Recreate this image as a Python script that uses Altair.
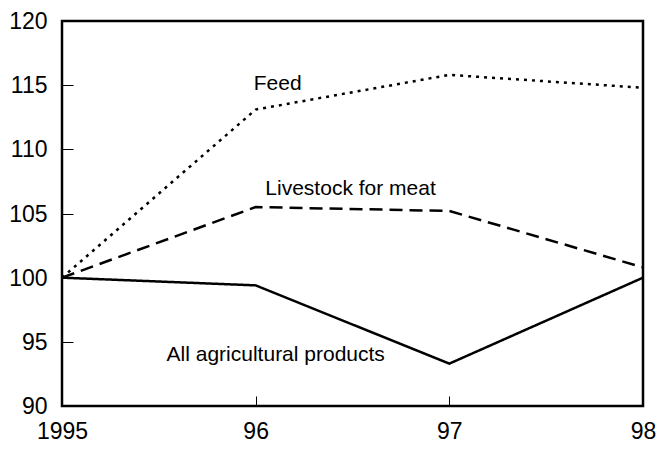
import altair as alt
import pandas as pd

years = [1995, 1996, 1997, 1998]
feed = [100.0, 113.1, 115.8, 114.8]
livestock = [100.0, 105.5, 105.2, 100.8]
all_products = [100.0, 99.4, 93.3, 100.0]

series_names = ["Feed", "Livestock for meat", "All agricultural products"]
series_values = [feed, livestock, all_products]

label_texts = ["Feed", "Livestock for meat", "All agricultural products"]
label_x = [1995.99, 1996.05, 1995.54]
label_y = [114.6, 106.44, 93.48]

x_ticks_inner = [1996, 1997]
y_ticks_inner = [95, 100, 105, 110, 115]
y_label_values = [90, 95, 100, 105, 110, 115, 120]
x_label_values = [1995, 1996, 1997, 1998]

rows = []
for name, vals in zip(series_names, series_values):
    for yr, v in zip(years, vals):
        rows.append({"year": yr, "value": v, "series": name})
df = pd.DataFrame(rows)

labels_df = pd.DataFrame({"year": label_x, "value": label_y, "text": label_texts})

FONT = "Liberation Sans"
W, H = 581, 385

x_scale = alt.Scale(domain=[1995, 1998], nice=False, zero=False)
y_scale = alt.Scale(domain=[90, 120], nice=False, zero=False)

lines = alt.Chart(df).mark_line(color="black", strokeWidth=2.5, strokeCap="butt").encode(
    x=alt.X("year:Q", scale=x_scale,
            axis=alt.Axis(orient="bottom", values=x_label_values, title=None, grid=False,
                          domain=False, ticks=False, tickSize=0, labelPadding=14,
                          labelFont=FONT, labelFontSize=23, labelColor="black",
                          labelExpr="datum.value == 1995 ? '1995' : substring(toString(datum.value), 2, 4)",
                          labelFlush=False, labelOverlap=False)),
    y=alt.Y("value:Q", scale=y_scale,
            axis=alt.Axis(orient="left", values=y_label_values, title=None, grid=False,
                          domain=False, ticks=False, tickSize=0, labelPadding=15,
                          labelFont=FONT, labelFontSize=23, labelColor="black",
                          labelOffset=0.5, labelFlush=False, labelOverlap=False)),
    strokeDash=alt.StrokeDash("series:N",
                              scale=alt.Scale(domain=series_names,
                                              range=[[3, 5], [13, 7], [1, 0]]),
                              legend=None),
    detail="series:N",
)

texts = alt.Chart(labels_df).mark_text(
    align="left", baseline="alphabetic", font=FONT, fontSize=21, color="black"
).encode(
    x=alt.X("year:Q", scale=x_scale,
            axis=alt.Axis(orient="top", offset=-H, values=x_ticks_inner, title=None, grid=False,
                          domain=False, labels=False, ticks=True, tickSize=10, tickWidth=1,
                          tickColor="black")),
    y=alt.Y("value:Q", scale=y_scale,
            axis=alt.Axis(orient="right", offset=-W, values=y_ticks_inner, title=None, grid=False,
                          domain=False, labels=False, ticks=True, tickSize=11, tickWidth=1,
                          tickColor="black")),
    text="text:N",
)

chart = alt.layer(lines, texts).resolve_axis(x="independent", y="independent").properties(
    width=W, height=H,
    autosize=alt.AutoSizeParams(type="none"),
    padding={"left": 54, "top": 13, "right": 13, "bottom": 37},
    background="white",
).configure_view(stroke="black", strokeWidth=2.5)

chart.save("out.html", embed_options={"renderer": "svg", "actions": False})
